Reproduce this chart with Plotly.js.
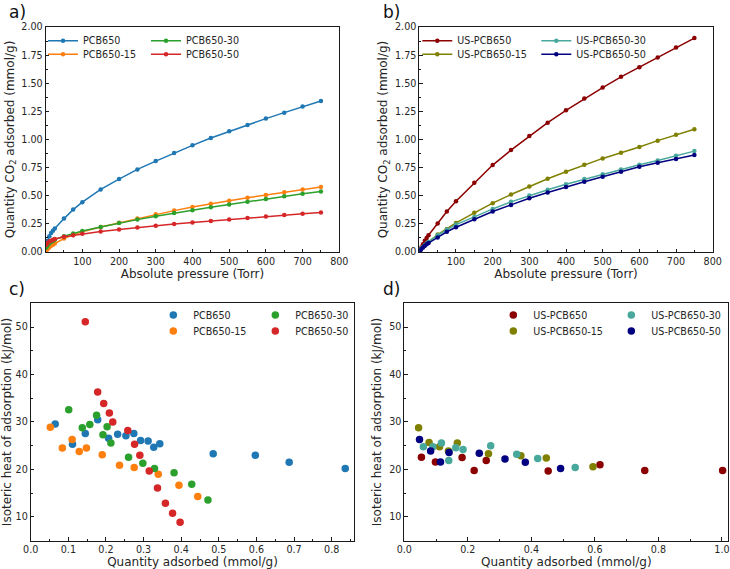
<!DOCTYPE html>
<html>
<head>
<meta charset="utf-8">
<script src="https://cdn.plot.ly/plotly-3.0.1.min.js"></script>
<style>html,body{margin:0;padding:0;background:#fff}#chart{width:730px;height:569px}</style>
</head>
<body>
<div id="chart"></div>
<script>
// ---- Data ----
const pressure = [2,5,10,15,20,25,50,75,100,150,200,250,300,350,400,450,500,550,600,650,700,750];

const namesA = ["PCB650","PCB650-15","PCB650-30","PCB650-50"];
const pcb650    = [0.06,0.10,0.14,0.17,0.19,0.21,0.297,0.377,0.443,0.556,0.648,0.734,0.808,0.880,0.948,1.013,1.073,1.129,1.186,1.239,1.293,1.343];
const pcb650_15 = [0.015,0.025,0.04,0.055,0.065,0.075,0.12,0.152,0.18,0.222,0.26,0.298,0.335,0.368,0.40,0.43,0.456,0.482,0.507,0.532,0.556,0.577];
const pcb650_30 = [0.04,0.055,0.075,0.09,0.10,0.11,0.14,0.165,0.186,0.222,0.258,0.288,0.318,0.346,0.372,0.398,0.422,0.447,0.472,0.496,0.518,0.538];
const pcb650_50 = [0.065,0.08,0.095,0.10,0.108,0.115,0.135,0.148,0.162,0.183,0.20,0.218,0.233,0.248,0.262,0.276,0.29,0.303,0.316,0.328,0.34,0.351];

const namesB = ["US-PCB650","US-PCB650-15","US-PCB650-30","US-PCB650-50"];
const us650    = [0.02,0.04,0.07,0.10,0.125,0.149,0.253,0.36,0.452,0.615,0.773,0.906,1.031,1.15,1.26,1.364,1.462,1.557,1.643,1.73,1.819,1.902];
const us650_15 = [0.015,0.03,0.045,0.06,0.075,0.09,0.155,0.205,0.259,0.348,0.434,0.511,0.582,0.651,0.713,0.776,0.832,0.883,0.933,0.99,1.043,1.091];
const us650_30 = [0.015,0.03,0.045,0.06,0.075,0.09,0.15,0.2,0.244,0.312,0.383,0.446,0.502,0.553,0.603,0.648,0.692,0.734,0.776,0.814,0.856,0.897];
const us650_50 = [0.01,0.025,0.04,0.055,0.07,0.08,0.13,0.18,0.22,0.291,0.36,0.419,0.478,0.529,0.579,0.624,0.669,0.713,0.758,0.793,0.826,0.862];

// Panel c: isosteric heat vs quantity adsorbed
const c650_q  = [0.065,0.111,0.145,0.178,0.207,0.231,0.253,0.274,0.292,0.312,0.327,0.343,0.485,0.597,0.687,0.836];
const c650_h  = [29.6,25.3,27.6,30.5,26.6,27.4,27.1,27.6,26.1,26.0,24.7,25.4,23.3,23.0,21.5,20.2];
const c15_q   = [0.052,0.084,0.110,0.129,0.148,0.190,0.236,0.275,0.339,0.394,0.444];
const c15_h   = [28.9,24.5,26.3,23.8,24.5,23.1,20.9,20.4,19.0,16.7,14.3];
const c30_q   = [0.101,0.137,0.157,0.175,0.192,0.203,0.213,0.260,0.298,0.329,0.381,0.428,0.471];
const c30_h   = [32.6,28.8,29.5,31.4,27.3,29.0,25.6,22.6,21.3,20.2,19.3,16.9,13.6];
const c50_q   = [0.145,0.178,0.194,0.209,0.218,0.258,0.276,0.290,0.315,0.337,0.358,0.377,0.397];
const c50_h   = [51.1,36.3,33.9,31.9,30.0,28.2,25.3,23.0,19.7,16.1,12.9,10.8,8.9];

// Panel d
const d650_q  = [0.054,0.098,0.182,0.220,0.258,0.453,0.616,0.757,1.002];
const d650_h  = [22.6,21.6,22.5,19.8,21.9,19.7,21.0,19.8,19.8];
const d15_q   = [0.045,0.078,0.111,0.139,0.167,0.265,0.367,0.447,0.594];
const d15_h   = [28.8,25.7,24.8,23.9,25.6,23.3,22.9,22.4,20.6];
const d30_q   = [0.060,0.090,0.117,0.140,0.162,0.185,0.272,0.354,0.420,0.538];
const d30_h   = [24.8,24.8,25.6,21.9,24.6,24.2,25.0,23.2,22.3,20.4];
const d50_q   = [0.048,0.083,0.114,0.141,0.236,0.317,0.381,0.492];
const d50_h   = [26.3,23.9,21.6,23.6,23.4,22.2,21.5,20.2];

const xTicksA = [100,200,300,400,500,600,700,800];

// ---- Styles ----
const colA = ["#1f77b4","#ff7f0e","#2ca02c","#d62728"];
const colB = ["#8b0000","#808000","#48a89c","#000080"];
const FONT = "DejaVu Sans, sans-serif";
const TXT = "#262626";

function lineTrace(x, y, name, color, xa, ya, leg, rank){
  return {x:x, y:y, name:name, type:"scatter", mode:"lines+markers",
    line:{color:color, width:1.5}, marker:{color:color, size:4.5},
    xaxis:xa, yaxis:ya, legend:leg, legendrank:rank, hoverinfo:"skip"};
}
function dotTrace(x, y, name, color, xa, ya, leg, rank){
  return {x:x, y:y, name:name, type:"scatter", mode:"markers",
    marker:{color:color, size:7.5}, xaxis:xa, yaxis:ya, legend:leg, legendrank:rank, hoverinfo:"skip"};
}

const data = [
  lineTrace(pressure, pcb650,    namesA[0], colA[0], "x","y","legend",1),
  lineTrace(pressure, pcb650_15, namesA[1], colA[1], "x","y","legend2",1),
  lineTrace(pressure, pcb650_30, namesA[2], colA[2], "x","y","legend",2),
  lineTrace(pressure, pcb650_50, namesA[3], colA[3], "x","y","legend2",2),

  lineTrace(pressure, us650,    namesB[0], colB[0], "x2","y2","legend3",1),
  lineTrace(pressure, us650_15, namesB[1], colB[1], "x2","y2","legend4",1),
  lineTrace(pressure, us650_30, namesB[2], colB[2], "x2","y2","legend3",2),
  lineTrace(pressure, us650_50, namesB[3], colB[3], "x2","y2","legend4",2),

  dotTrace(c650_q, c650_h, namesA[0], colA[0], "x3","y3","legend5",1),
  dotTrace(c15_q,  c15_h,  namesA[1], colA[1], "x3","y3","legend6",1),
  dotTrace(c30_q,  c30_h,  namesA[2], colA[2], "x3","y3","legend5",2),
  dotTrace(c50_q,  c50_h,  namesA[3], colA[3], "x3","y3","legend6",2),

  dotTrace(d650_q, d650_h, namesB[0], colB[0], "x4","y4","legend7",1),
  dotTrace(d15_q,  d15_h,  namesB[1], colB[1], "x4","y4","legend8",1),
  dotTrace(d30_q,  d30_h,  namesB[2], colB[2], "x4","y4","legend7",2),
  dotTrace(d50_q,  d50_h,  namesB[3], colB[3], "x4","y4","legend8",2)
];

function ax(extra){
  return Object.assign({
    showline:true, mirror:true, linecolor:"#1a1a1a", linewidth:1,
    ticks:"inside", ticklen:3.5, tickwidth:1, tickcolor:"#1a1a1a",
    showgrid:false, zeroline:false, fixedrange:true,
    tickfont:{family:FONT, size:9.6, color:TXT},
    title:{font:{family:FONT, size:12, color:TXT}}
  }, extra);
}
function leg(x, y, ew){
  return {orientation:"h", x:x, y:y, xanchor:"left", yanchor:"middle",
    bgcolor:"rgba(0,0,0,0)", borderwidth:0, entrywidth:ew, entrywidthmode:"pixels",
    font:{family:FONT, size:9.6, color:TXT}, itemclick:false, itemdoubleclick:false, tracegroupgap:0};
}

const yA = [0.5571, 0.9525], yC = [0.0497, 0.4670];

const layout = {
  width:730, height:569, margin:{l:0,r:0,t:0,b:0},
  paper_bgcolor:"#fff", plot_bgcolor:"#fff",
  font:{family:FONT, color:TXT},
  showlegend:true,
  xaxis: ax({domain:[0.0625,0.4648], anchor:"y", range:[0,800], tickvals:xTicksA,
    minor:{ticks:"inside", ticklen:2, dtick:50, tickcolor:"#1a1a1a"},
    title:{text:"Absolute pressure (Torr)", standoff:3, font:{family:FONT,size:12,color:TXT}}}),
  yaxis: ax({domain:yA, anchor:"x", range:[0,2], dtick:0.25, tickformat:".2f",
    minor:{ticks:"inside", ticklen:2, dtick:0.125, tickcolor:"#1a1a1a"},
    title:{text:"Quantity CO<sub>2</sub> adsorbed (mmol/g)", standoff:4, font:{family:FONT,size:12,color:TXT}}}),
  xaxis2: ax({domain:[0.5744,0.9763], anchor:"y2", range:[0,800], tickvals:xTicksA,
    minor:{ticks:"inside", ticklen:2, dtick:50, tickcolor:"#1a1a1a"},
    title:{text:"Absolute pressure (Torr)", standoff:3, font:{family:FONT,size:12,color:TXT}}}),
  yaxis2: ax({domain:yA, anchor:"x2", range:[0,2], dtick:0.25, tickformat:".2f",
    minor:{ticks:"inside", ticklen:2, dtick:0.125, tickcolor:"#1a1a1a"},
    title:{text:"Quantity CO<sub>2</sub> adsorbed (mmol/g)", standoff:4, font:{family:FONT,size:12,color:TXT}}}),
  xaxis3: ax({domain:[0.0421,0.4853], anchor:"y3", range:[0,0.86], dtick:0.1, tick0:0, tickformat:".1f",
    minor:{ticks:"inside", ticklen:2, dtick:0.05, tickcolor:"#1a1a1a"},
    title:{text:"Quantity adsorbed (mmol/g)", standoff:3, font:{family:FONT,size:12,color:TXT}}}),
  yaxis3: ax({domain:yC, anchor:"x3", range:[5,55], tickvals:[10,20,30,40,50],
    minor:{ticks:"inside", ticklen:2, dtick:5, tickcolor:"#1a1a1a"},
    title:{text:"Isoteric heat of adsorption (kJ/mol)", standoff:4, font:{family:FONT,size:12,color:TXT}}}),
  xaxis4: ax({domain:[0.5538,0.9977], anchor:"y4", range:[0,1.02], dtick:0.2, tick0:0, tickformat:".1f",
    minor:{ticks:"inside", ticklen:2, dtick:0.1, tickcolor:"#1a1a1a"},
    title:{text:"Quantity adsorbed (mmol/g)", standoff:3, font:{family:FONT,size:12,color:TXT}}}),
  yaxis4: ax({domain:yC, anchor:"x4", range:[5,55], tickvals:[10,20,30,40,50],
    minor:{ticks:"inside", ticklen:2, dtick:5, tickcolor:"#1a1a1a"},
    title:{text:"Isoteric heat of adsorption (kJ/mol)", standoff:4, font:{family:FONT,size:12,color:TXT}}}),
  legend:  leg(43/730, 1-40.7/569, 58),
  legend2: leg(43/730, 1-54.3/569, 58),
  legend3: leg(417.3/730, 1-40.7/569, 74),
  legend4: leg(417.3/730, 1-54.3/569, 74),
  legend5: leg(153.3/730, 1-315/569, 57),
  legend6: leg(153.3/730, 1-331/569, 57),
  legend7: leg(493.3/730, 1-315/569, 73),
  legend8: leg(493.3/730, 1-331/569, 73),
  annotations:[
    {text:"a)", xref:"paper", yref:"paper", x:7/730, y:1-12/569, xanchor:"left", yanchor:"middle", showarrow:false, font:{family:FONT,size:17,color:"#111"}},
    {text:"b)", xref:"paper", yref:"paper", x:381/730, y:1-12/569, xanchor:"left", yanchor:"middle", showarrow:false, font:{family:FONT,size:17,color:"#111"}},
    {text:"c)", xref:"paper", yref:"paper", x:7/730, y:1-289/569, xanchor:"left", yanchor:"middle", showarrow:false, font:{family:FONT,size:17,color:"#111"}},
    {text:"d)", xref:"paper", yref:"paper", x:381/730, y:1-289/569, xanchor:"left", yanchor:"middle", showarrow:false, font:{family:FONT,size:17,color:"#111"}}
  ]
};

Plotly.newPlot("chart", data, layout, {staticPlot:true, displayModeBar:false});
</script>
</body>
</html>
